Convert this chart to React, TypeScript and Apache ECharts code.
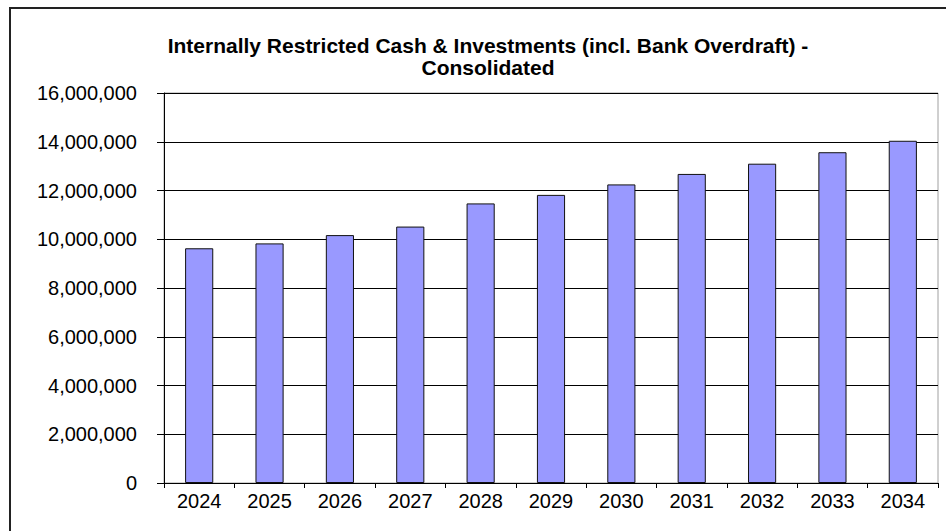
import React, { useEffect, useRef } from "react";
import * as echarts from "echarts";

const titleLines = [
  "Internally Restricted Cash & Investments (incl. Bank Overdraft) -",
  "Consolidated",
];
const categories = ["2024", "2025", "2026", "2027", "2028", "2029", "2030", "2031", "2032", "2033", "2034"];
const values = [9630000, 9830000, 10170000, 10520000, 11470000, 11820000, 12250000, 12680000, 13100000, 13570000, 14040000];
const yMin = 0;
const yMax = 16000000;
const yInterval = 2000000;

const fmt = (v: number) => v.toLocaleString("en-US");

export default function App() {
  const ref = useRef<HTMLDivElement>(null);
  useEffect(() => {
    if (!ref.current) return;
    const chart = echarts.init(ref.current, null, { renderer: "svg" });
    chart.setOption({
      animation: false,
      backgroundColor: "#ffffff",
      title: {
        text: titleLines.join("\n"),
        left: 483,
        textAlign: "center",
        top: 29,
        textStyle: {
          fontFamily: "Liberation Sans, Arial, sans-serif",
          fontWeight: "bold",
          fontSize: 21,
          lineHeight: 22,
          color: "#000",
        },
      },
      graphic: [
        {
          type: "rect",
          shape: { x: 10, y: 8, width: 1000, height: 1000 },
          style: { fill: "none", stroke: "#222", lineWidth: 2 },
          silent: true,
        },
      ],
      grid: {
        left: 164,
        top: 93,
        width: 774,
        height: 390,
        show: true,
        borderColor: "#a0a0a0",
        borderWidth: 1,
        backgroundColor: "#ffffff",
      },
      xAxis: {
        type: "category",
        data: categories,
        boundaryGap: true,
        axisLine: { show: true, lineStyle: { color: "#000", width: 1 } },
        axisTick: { show: true, length: 5, lineStyle: { color: "#000" } },
        axisLabel: {
          color: "#000",
          fontFamily: "Liberation Sans, Arial, sans-serif",
          fontSize: 20,
          margin: 8,
        },
        splitLine: { show: false },
      },
      yAxis: {
        type: "value",
        min: yMin,
        max: yMax,
        interval: yInterval,
        axisLine: { show: true, lineStyle: { color: "#000", width: 1 } },
        axisTick: { show: true, length: 7, lineStyle: { color: "#000" } },
        axisLabel: {
          color: "#000",
          fontFamily: "Liberation Sans, Arial, sans-serif",
          fontSize: 20,
          margin: 27,
          formatter: (v: number) => fmt(v),
        },
        splitLine: { show: true, lineStyle: { color: "#000", width: 1 } },
      },
      series: [
        {
          type: "bar",
          data: values,
          barCategoryGap: "60%",
          itemStyle: { color: "#9999ff", borderColor: "#111", borderWidth: 1 },
        },
      ],
    });
    return () => chart.dispose();
  }, []);
  return (
    <div
      ref={ref}
      style={{ position: "fixed", left: 0, top: 0, width: 946, height: 531 }}
    />
  );
}
